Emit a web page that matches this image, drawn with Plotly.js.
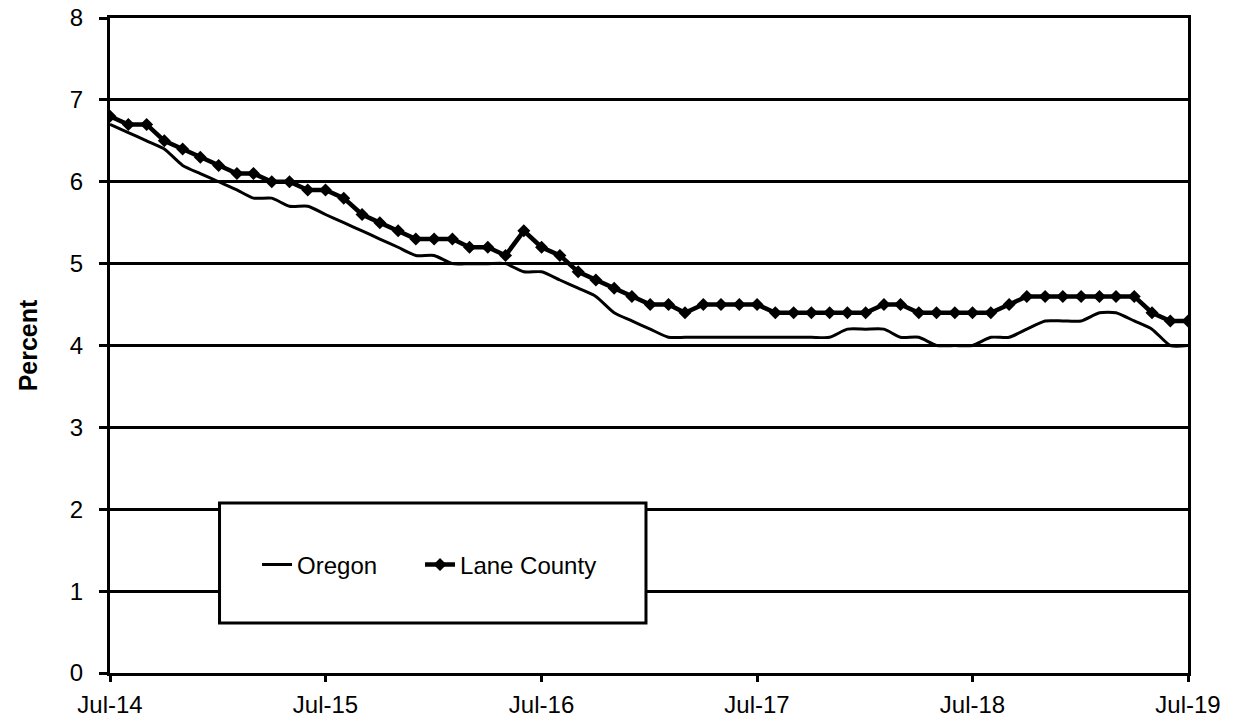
<!DOCTYPE html>
<html>
<head>
<meta charset="utf-8">
<script src="https://cdn.plot.ly/plotly-3.0.1.min.js"></script>
<style>html,body{margin:0;padding:0;background:#fff;}#chart{width:1233px;height:723px;}</style>
</head>
<body>
<div id="chart"></div>
<script>
// Monthly, Jul-2014 .. Jul-2019 (61 months)
const startYear = 2014, startMonth = 7, monthCount = 61;
const oregon = [
  6.7, 6.6, 6.5, 6.4, 6.2, 6.1, 6.0, 5.9, 5.8, 5.8, 5.7, 5.7,
  5.6, 5.5, 5.4, 5.3, 5.2, 5.1, 5.1, 5.0, 5.0, 5.0, 5.0, 4.9,
  4.9, 4.8, 4.7, 4.6, 4.4, 4.3, 4.2, 4.1, 4.1, 4.1, 4.1, 4.1,
  4.1, 4.1, 4.1, 4.1, 4.1, 4.2, 4.2, 4.2, 4.1, 4.1, 4.0, 4.0,
  4.0, 4.1, 4.1, 4.2, 4.3, 4.3, 4.3, 4.4, 4.4, 4.3, 4.2, 4.0,
  4.0
];
const laneCounty = [
  6.8, 6.7, 6.7, 6.5, 6.4, 6.3, 6.2, 6.1, 6.1, 6.0, 6.0, 5.9,
  5.9, 5.8, 5.6, 5.5, 5.4, 5.3, 5.3, 5.3, 5.2, 5.2, 5.1, 5.4,
  5.2, 5.1, 4.9, 4.8, 4.7, 4.6, 4.5, 4.5, 4.4, 4.5, 4.5, 4.5,
  4.5, 4.4, 4.4, 4.4, 4.4, 4.4, 4.4, 4.5, 4.5, 4.4, 4.4, 4.4,
  4.4, 4.4, 4.5, 4.6, 4.6, 4.6, 4.6, 4.6, 4.6, 4.6, 4.4, 4.3,
  4.3
];
const tickVals = ['2014-07-01','2015-07-01','2016-07-01','2017-07-01','2018-07-01','2019-07-01'];
const tickText = ['Jul-14','Jul-15','Jul-16','Jul-17','Jul-18','Jul-19'];
const yTicks = [0,1,2,3,4,5,6,7,8];

const months = [];
for (let i = 0; i < monthCount; i++) {
  const m0 = startMonth - 1 + i;
  const y = startYear + Math.floor(m0 / 12);
  const m = (m0 % 12) + 1;
  months.push(y + '-' + String(m).padStart(2,'0') + '-01');
}

const font = {family: 'Liberation Sans, Arial, sans-serif', size: 24, color: '#000'};
const titleFont = {family: 'Liberation Sans, Arial, sans-serif', size: 25, color: '#000'};

const traces = [
  {x: months, y: oregon, name: 'Oregon', type: 'scatter', mode: 'lines', legend: 'legend',
   line: {color: '#000', width: 3, shape: 'spline', smoothing: 0.6}},
  {x: months, y: laneCounty, name: 'Lane County', type: 'scatter', mode: 'lines+markers', legend: 'legend2',
   line: {color: '#000', width: 4.5}, marker: {symbol: 'diamond', size: 10, color: '#000'}}
];

const legendBase = {orientation: 'h', xanchor: 'left', y: 0.165, yanchor: 'middle',
                    bgcolor: 'rgba(0,0,0,0)', borderwidth: 0, font: font};

const layout = {
  width: 1233, height: 723,
  margin: {l: 110, r: 45, t: 18, b: 50},
  paper_bgcolor: '#fff', plot_bgcolor: '#fff',
  font: font,
  showlegend: true,
  legend: Object.assign({}, legendBase, {x: 0.1364}),
  legend2: Object.assign({}, legendBase, {x: 0.2876}),
  xaxis: {type: 'date', range: ['2014-07-01','2019-07-01'], tickvals: tickVals, ticktext: tickText,
          showgrid: false, showline: true, linecolor: '#000', linewidth: 3, mirror: true,
          ticks: 'outside', ticklen: 6, tickwidth: 3, tickcolor: '#000', zeroline: false,
          ticklabelstandoff: 2, tickfont: font},
  yaxis: {range: [0, 8], tickvals: yTicks, showgrid: true, gridcolor: '#000', gridwidth: 3,
          showline: true, linecolor: '#000', linewidth: 3, mirror: true, zeroline: false,
          ticks: 'outside', ticklen: 8, tickwidth: 3, tickcolor: '#000', tickfont: font,
          ticklabelstandoff: 11,
          title: {text: '<b>Percent</b>', font: titleFont, standoff: 26}},
  shapes: [
    {type: 'rect', xref: 'paper', yref: 'paper', x0: 0.1016, x1: 0.4972, y0: 0.0763, y1: 0.2595,
     line: {color: '#000', width: 3}, fillcolor: '#fff', layer: 'above'}
  ]
};

Plotly.newPlot('chart', traces, layout, {displayModeBar: false, staticPlot: true});
</script>
</body>
</html>
